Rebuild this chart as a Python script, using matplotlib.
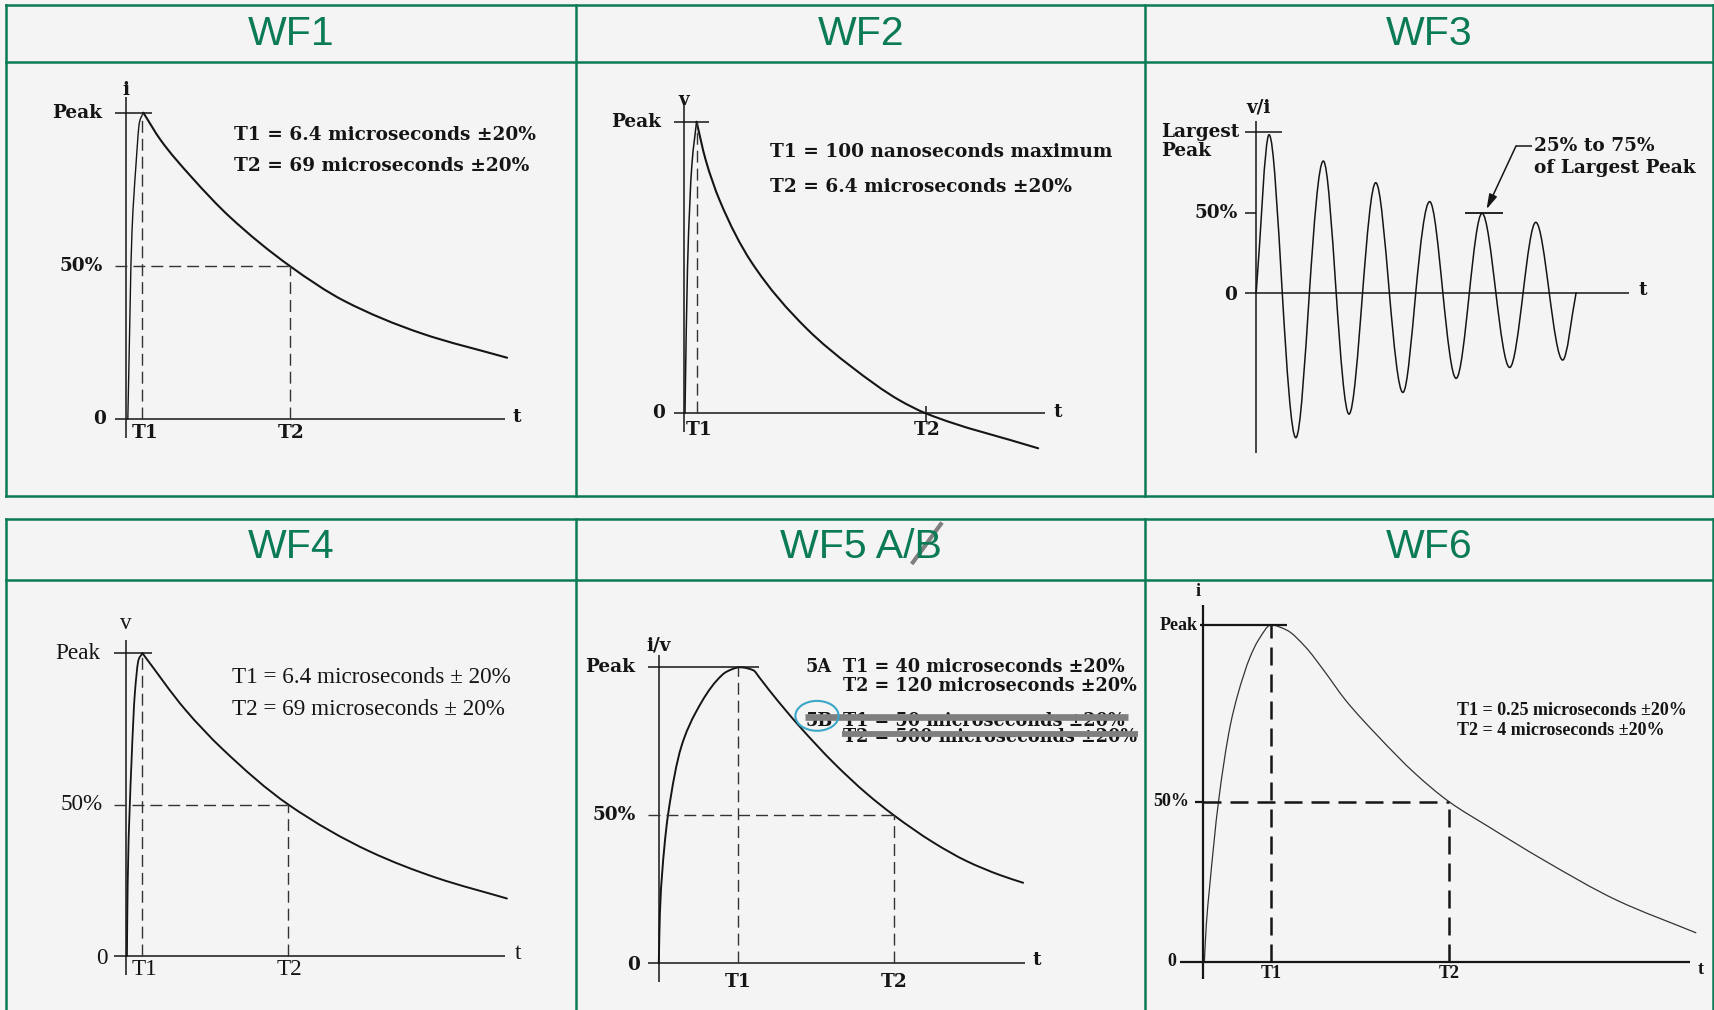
import matplotlib.pyplot as plt
from matplotlib.path import Path
from matplotlib.patches import PathPatch, Ellipse

# ---------------- values ----------------
# time axis: % of the drawn t-axis length, level: fraction of peak
titles = ['WF1', 'WF2', 'WF3', 'WF4', 'WF5 A/B', 'WF6']

wf1_rise_t = [0.4, 1.5, 2.5, 3.5, 4.5]
wf1_rise_v = [0.0, 0.61, 0.82, 0.97, 1.0]
wf1_decay_t = [4.5, 9.1, 17.2, 27.3, 43.1, 57.6, 77.8, 100.5]
wf1_decay_v = [1.0, 0.91, 0.79, 0.66, 0.50, 0.385, 0.28, 0.20]
wf1_t1, wf1_t2 = 4.25, 43.1

wf2_rise_t = [0.3, 1.0, 2.2, 3.5]
wf2_rise_v = [0.0, 0.5, 0.85, 1.0]
wf2_decay_t = [3.5, 6.0, 9.9, 18.6, 34.0, 46.3, 59.6, 66.9, 98.0]
wf2_decay_v = [1.0, 0.87, 0.73, 0.52, 0.29, 0.16, 0.045, 0.0, -0.12]
wf2_t1, wf2_t2 = 3.5, 66.9

# zero crossings and extremes of the damped ring wave
wf3_t = [0.0, 3.45, 6.98, 10.62, 14.25, 17.98, 21.42, 24.86, 28.50, 32.03,
         35.67, 39.30, 42.74, 46.47, 50.0, 53.55, 57.1, 60.5, 64.2, 67.9,
         71.5, 74.9, 78.5, 82.1, 85.7]
wf3_v = [0.0, 0.985, 0.0, -0.904, 0.0, 0.821, 0.0, -0.757, 0.0, 0.686,
         0.0, -0.622, 0.0, 0.568, 0.0, -0.534, 0.0, 0.495, 0.0, -0.466,
         0.0, 0.439, 0.0, -0.42, 0.0]
wf3_mark_t = [56.0, 66.1]

wf4_rise_t = [0.3, 0.5, 1.5, 2.4, 3.4, 4.4]
wf4_rise_v = [0.0, 0.24, 0.64, 0.87, 0.98, 1.0]
wf4_decay_t = [4.4, 15.6, 25.4, 42.9, 64.4, 82.0, 100.5]
wf4_decay_v = [1.0, 0.815, 0.685, 0.50, 0.345, 0.258, 0.19]
wf4_t1, wf4_t2 = 4.2, 42.9

wf5_t = [0.0, 0.3, 1.5, 2.5, 6.1, 10.2, 15.8, 18.5, 22.2, 25.8, 27.5, 30.0,
         34.9, 38.6, 47.6, 56.8, 64.2, 75.0, 84.1, 93.2, 99.5]
wf5_v = [0.0, 0.17, 0.39, 0.50, 0.73, 0.85, 0.955, 0.985, 1.0, 0.99, 0.965,
         0.925, 0.851, 0.798, 0.679, 0.573, 0.50, 0.408, 0.345, 0.298, 0.272]
wf5_t1, wf5_t2 = 21.7, 64.2

wf6_t = [0.2, 0.6, 1.2, 3.1, 5.5, 7.0, 9.6, 11.3, 13.9, 17.1, 20.9, 24.7,
         29.2, 36.0, 43.5, 50.5, 58.6, 69.9, 84.9, 101.2]
wf6_v = [0.0, 0.11, 0.21, 0.475, 0.70, 0.79, 0.905, 0.955, 1.0, 0.985,
         0.936, 0.866, 0.777, 0.668, 0.559, 0.475, 0.401, 0.302, 0.183, 0.086]
wf6_t1, wf6_t2, wf6_half = 13.9, 50.5, 0.475

# ---------------- styling ----------------
W, H = 1715, 1010
green = '#0b7a57'
ink = '#151515'
cent = dict(family='DejaVu Serif', weight='bold', size=13.3, color=ink)
times = dict(family='Liberation Serif', size=16.7, color=ink)
times_b = dict(family='Liberation Serif', weight='bold', size=13, color=ink)
dash_thin = (0, (8.6, 4.3))

fig = plt.figure(figsize=(W / 100, H / 100), dpi=100, facecolor='#f4f4f4')
bg = fig.add_axes([0, 0, 1, 1])
bg.set_xlim(0, W)
bg.set_ylim(H, 0)
bg.axis('off')

# table grid
cols = [6.5, 576, 1145.3, 1713.5]
for top, sep, bot in [(5, 61.5, 495.5), (519, 579.5, 1015)]:
    for x in cols:
        bg.plot([x, x], [top, bot], color=green, lw=1.8)
    for y in [top, sep, bot]:
        bg.plot([cols[0], cols[-1]], [y, y], color=green, lw=1.8)

for k, name in enumerate(titles):
    c = k % 3
    base = 45 if k < 3 else 558.3
    bg.text((cols[c] + cols[c + 1]) / 2, base, name, ha='center', va='baseline',
            family='Liberation Sans', size=29.5, color=green)
# the struck-out "B"
bg.plot([911.7, 942], [564, 522.5], color='#7f7f7f', lw=3, solid_capstyle='butt')


def panel(x0, y0, xe, yp):
    # axes spans origin -> end of t axis, zero -> peak level (pixel layout)
    ax = fig.add_axes([x0 / W, 1 - y0 / H, (xe - x0) / W, (y0 - yp) / H])
    ax.set_xlim(0, 100)
    ax.set_ylim(0, 1)
    ax.axis('off')
    ax.patch.set_visible(False)
    return ax


def seg(ax, xs, ys, **kw):
    kw.setdefault('color', ink)
    kw.setdefault('lw', 1.1)
    ax.plot(xs, ys, clip_on=False, solid_capstyle='butt', **kw)


def smooth(ax, xs, ys, gain=1.0, **kw):
    # smooth line through the read points: monotone cubic (pchip) drawn as bezier path
    n = len(xs)
    h = [xs[i + 1] - xs[i] for i in range(n - 1)]
    d = [(ys[i + 1] - ys[i]) / h[i] for i in range(n - 1)]
    m = [d[0]] + [0.0] * (n - 2) + [d[-1]]
    for i in range(1, n - 1):
        if d[i - 1] * d[i] > 0:
            w1 = 2 * h[i] + h[i - 1]
            w2 = h[i] + 2 * h[i - 1]
            m[i] = gain * (w1 + w2) / (w1 / d[i - 1] + w2 / d[i])
    verts = [(xs[0], ys[0])]
    codes = [Path.MOVETO]
    for i in range(n - 1):
        verts += [(xs[i] + h[i] / 3, ys[i] + m[i] * h[i] / 3),
                  (xs[i + 1] - h[i] / 3, ys[i + 1] - m[i + 1] * h[i] / 3),
                  (xs[i + 1], ys[i + 1])]
        codes += [Path.CURVE4] * 3
    kw.setdefault('color', ink)
    ax.add_patch(PathPatch(Path(verts, codes), fill=False, clip_on=False,
                           capstyle='round', joinstyle='round', **kw))


# ---------------- WF1 ----------------
ax = panel(126.3, 419, 505.2, 112.7)
seg(ax, [0, 0], [-0.062, 1.05])
seg(ax, [-3.0, 100], [0, 0])
seg(ax, [-3.0, 6.9], [1, 1])
seg(ax, [-3.0, wf1_t2], [0.5, 0.5], ls=dash_thin, lw=1.0, color='#333333')
seg(ax, [wf1_t1, wf1_t1], [0, 1], ls=dash_thin, lw=1.0, color='#333333')
seg(ax, [wf1_t2, wf1_t2], [0, 0.5], ls=dash_thin, lw=1.0, color='#333333')
smooth(ax, wf1_rise_t, wf1_rise_v, lw=1.0)
smooth(ax, wf1_decay_t, wf1_decay_v, lw=1.5)
ax.text(0, 1.075, 'i', ha='center', va='center', **cent)
ax.text(-6.3, 1.0, 'Peak', ha='right', va='center', **cent)
ax.text(-6.3, 0.5, '50%', ha='right', va='center', **cent)
ax.text(-5.3, 0.0, '0', ha='right', va='center', **cent)
ax.text(4.9, -0.046, 'T1', ha='center', va='center', **cent)
ax.text(43.4, -0.046, 'T2', ha='center', va='center', **cent)
ax.text(103.1, 0.007, 't', ha='center', va='center', **cent)
ax.text(28.3, 0.927, 'T1 = 6.4 microseconds ±20%', ha='left', va='center', **cent)
ax.text(28.3, 0.827, 'T2 = 69 microseconds ±20%', ha='left', va='center', **cent)

# ---------------- WF2 ----------------
ax = panel(683.9, 413.3, 1045.4, 121.7)
seg(ax, [0, 0], [-0.063, 1.06])
seg(ax, [-2.85, 100], [0, 0])
seg(ax, [-2.85, 7.0], [1, 1])
seg(ax, [wf2_t1, wf2_t1], [0, 1], ls=dash_thin, lw=1.0, color='#333333')
seg(ax, [wf2_t2, wf2_t2], [-0.025, 0.025])
smooth(ax, wf2_rise_t, wf2_rise_v, lw=1.1)
smooth(ax, wf2_decay_t, wf2_decay_v, lw=1.5)
ax.text(0, 1.075, 'v', ha='center', va='center', **cent)
ax.text(-6.4, 1.0, 'Peak', ha='right', va='center', **cent)
ax.text(-5.1, 0.0, '0', ha='right', va='center', **cent)
ax.text(4.3, -0.057, 'T1', ha='center', va='center', **cent)
ax.text(67.2, -0.057, 'T2', ha='center', va='center', **cent)
ax.text(103.4, 0.005, 't', ha='center', va='center', **cent)
ax.text(23.8, 0.897, 'T1 = 100 nanoseconds maximum', ha='left', va='center', **cent)
ax.text(23.8, 0.777, 'T2 = 6.4 microseconds ±20%', ha='left', va='center', **cent)

# ---------------- WF3 ----------------
ax = panel(1256.2, 292.7, 1629.5, 132.3)
seg(ax, [0, 0], [-1.0, 1.07])
seg(ax, [-2.9, 100], [0, 0])
seg(ax, [-3.1, 6.9], [1, 1])
seg(ax, [-3.0, 0], [0.5, 0.5])
seg(ax, wf3_mark_t, [0.5, 0.5], lw=1.3)
smooth(ax, wf3_t, wf3_v, gain=1.5, lw=1.1)
ax.text(0.5, 1.153, 'v/i', ha='center', va='center', **cent)
ax.text(-25.5, 1.004, 'Largest', ha='left', va='center', **cent)
ax.text(-25.5, 0.883, 'Peak', ha='left', va='center', **cent)
ax.text(-4.8, 0.5, '50%', ha='right', va='center', **cent)
ax.text(-5.1, -0.014, '0', ha='right', va='center', **cent)
ax.text(103.5, 0.017, 't', ha='center', va='center', **cent)
ax.text(74.5, 0.915, '25% to 75%', ha='left', va='center', **cent)
ax.text(74.5, 0.776, 'of Largest Peak', ha='left', va='center', **cent)
seg(ax, [74.0, 69.6], [0.915, 0.915])
ax.annotate('', xy=(61.7, 0.52), xytext=(69.6, 0.915), annotation_clip=False,
            arrowprops=dict(arrowstyle='-|>,head_length=0.9,head_width=0.25',
                            color=ink, lw=1.1, shrinkA=0, shrinkB=0))

# ---------------- WF4 ----------------
ax = panel(125.8, 956, 505, 653.3)
seg(ax, [0, 0], [-0.063, 1.044])
seg(ax, [-3.1, 100], [0, 0])
seg(ax, [-3.1, 6.8], [1, 1])
seg(ax, [-3.1, wf4_t2], [0.5, 0.5], ls=dash_thin, lw=1.0, color='#333333')
seg(ax, [wf4_t1, wf4_t1], [0, 1], ls=dash_thin, lw=1.0, color='#333333')
seg(ax, [wf4_t2, wf4_t2], [0, 0.5], ls=dash_thin, lw=1.0, color='#333333')
smooth(ax, wf4_rise_t, wf4_rise_v, lw=1.3)
smooth(ax, wf4_decay_t, wf4_decay_v, lw=1.4)
ax.text(0, 1.097, 'v', ha='center', va='center', **times)
ax.text(-6.8, 1.0, 'Peak', ha='right', va='center', **times)
ax.text(-6.1, 0.5, '50%', ha='right', va='center', **times)
ax.text(-4.9, -0.008, '0', ha='right', va='center', **times)
ax.text(4.9, -0.046, 'T1', ha='center', va='center', **times)
ax.text(43.1, -0.046, 'T2', ha='center', va='center', **times)
ax.text(103.4, 0.009, 't', ha='center', va='center', **times)
ax.text(28.1, 0.921, 'T1 = 6.4 microseconds ± 20%', ha='left', va='center', **times)
ax.text(28.1, 0.815, 'T2 = 69 microseconds ± 20%', ha='left', va='center', **times)

# ---------------- WF5 ----------------
ax = panel(658.8, 963.3, 1025, 667.3)
seg(ax, [0, 0], [-0.062, 1.04])
seg(ax, [-3.0, 100], [0, 0])
seg(ax, [-3.0, 27.3], [1, 1])
seg(ax, [-3.0, wf5_t2], [0.5, 0.5], ls=dash_thin, lw=1.0, color='#333333')
seg(ax, [wf5_t1, wf5_t1], [0, 1], ls=dash_thin, lw=1.0, color='#333333')
seg(ax, [wf5_t2, wf5_t2], [0, 0.5], ls=dash_thin, lw=1.0, color='#333333')
smooth(ax, wf5_t, wf5_v, lw=1.4)
cent5 = dict(cent, size=12.7)
ax.text(0, 1.075, 'i/v', ha='center', va='center', **cent)
ax.text(-6.6, 1.0, 'Peak', ha='right', va='center', **cent)
ax.text(-6.3, 0.5, '50%', ha='right', va='center', **cent)
ax.text(-5.2, -0.006, '0', ha='right', va='center', **cent)
ax.text(wf5_t1, -0.062, 'T1', ha='center', va='center', **cent)
ax.text(wf5_t2, -0.062, 'T2', ha='center', va='center', **cent)
ax.text(103.2, 0.011, 't', ha='center', va='center', **cent)
ax.text(40.1, 1.0, '5A', ha='left', va='center', **cent5)
ax.text(50.3, 1.0, 'T1 = 40 microseconds ±20%', ha='left', va='center', **cent5)
ax.text(50.3, 0.937, 'T2 = 120 microseconds ±20%', ha='left', va='center', **cent5)
ax.text(40.1, 0.817, '5B', ha='left', va='center', **cent5)
ax.text(50.3, 0.817, 'T1 = 50 microseconds ±20%', ha='left', va='center', **cent5)
ax.text(50.3, 0.763, 'T2 = 500 microseconds ±20%', ha='left', va='center', **cent5)
# 5B is struck out: grey bars sit on top of the text
seg(ax, [40.0, 128.1], [0.833, 0.833], color='#7f7f7f', lw=4.8, zorder=5)
seg(ax, [50.0, 130.8], [0.773, 0.773], color='#7f7f7f', lw=4.2, zorder=5)
ax.add_patch(Ellipse((43.2, 0.836), 11.8, 0.101, fill=False, ec='#3aa6c8',
                     lw=1.5, clip_on=False, zorder=6))

# ---------------- WF6 ----------------
dash_bold = (0, (7.2, 3.6))
ax = panel(1203.4, 961.7, 1690, 625)
seg(ax, [0, 0], [-0.05, 1.06], lw=1.6)
seg(ax, [-4.8, 100], [0, 0], lw=1.6)
seg(ax, [-0.7, 17.1], [1, 1], lw=1.6)
seg(ax, [-1.7, 0], [wf6_half, wf6_half], lw=1.6)
seg(ax, [0, wf6_t2], [wf6_half, wf6_half], ls=dash_bold, lw=1.8)
seg(ax, [wf6_t1, wf6_t1], [0, 1], ls=dash_bold, lw=1.8)
seg(ax, [wf6_t2, wf6_t2], [0, wf6_half], ls=dash_bold, lw=1.8)
smooth(ax, wf6_t, wf6_v, lw=0.9, color='#333333')
ax.text(-1.1, 1.10, 'i', ha='center', va='center', **times_b)
ax.text(-1.1, 1.0, 'Peak', ha='right', va='center', **times_b)
ax.text(-3.0, wf6_half, '50%', ha='right', va='center', **times_b)
ax.text(-5.5, 0.0, '0', ha='right', va='center', **times_b)
ax.text(wf6_t1, -0.034, 'T1', ha='center', va='center', **times_b)
ax.text(wf6_t2, -0.034, 'T2', ha='center', va='center', **times_b)
ax.text(102.1, -0.023, 't', ha='center', va='center', **times_b)
ax.text(52.2, 0.745, 'T1 = 0.25 microseconds ±20%', ha='left', va='center', **times_b)
ax.text(52.2, 0.688, 'T2 = 4 microseconds ±20%', ha='left', va='center', **times_b)

fig.savefig('out.png', dpi=100, facecolor=fig.get_facecolor())
